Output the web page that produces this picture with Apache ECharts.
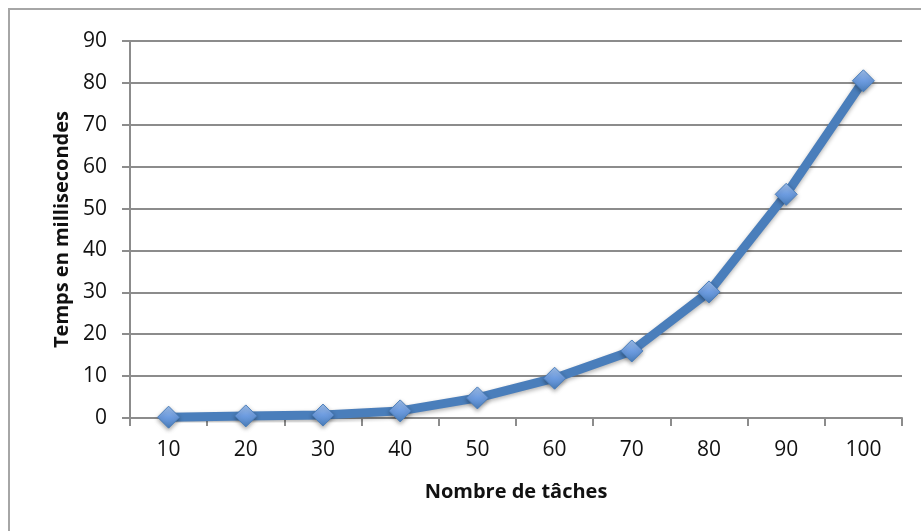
<!DOCTYPE html>
<html>
<head>
<meta charset="utf-8">
<script src="https://cdn.jsdelivr.net/npm/echarts@6/dist/echarts.min.js"></script>
<style>
  html, body { margin: 0; padding: 0; background: #fff; }
  #chart { width: 921px; height: 531px; }
</style>
</head>
<body>
<div id="chart"></div>
<script>
// Task counts on the x axis
const categories = ['10', '20', '30', '40', '50', '60', '70', '80', '90', '100'];
// Measured time in milliseconds for each task count
const timesMs = [0.2, 0.5, 0.7, 1.7, 4.8, 9.5, 16.0, 30.1, 53.4, 80.5];

const chart = echarts.init(document.getElementById('chart'));
const font = 'Open Sans';

chart.setOption({
  animation: false,
  backgroundColor: '#fff',
  graphic: [{
    type: 'rect',
    shape: { x: 9, y: 9, width: 930, height: 540 },
    style: { fill: 'none', stroke: '#a6a6a6', lineWidth: 2 },
    silent: true
  }],
  grid: { left: 130, right: 19, top: 41, bottom: 113 },
  xAxis: {
    type: 'category',
    data: categories,
    boundaryGap: true,
    name: 'Nombre de tâches',
    nameLocation: 'middle',
    nameGap: 64,
    nameTextStyle: { fontFamily: font, fontSize: 20, fontWeight: 'bold', color: '#111' },
    axisLine: { lineStyle: { color: '#8c8c8c', width: 2 } },
    axisTick: { show: true, length: 8, inside: false, alignWithLabel: false, lineStyle: { color: '#8c8c8c', width: 2 } },
    axisLabel: { fontFamily: font, fontSize: 21, color: '#111', margin: 22 },
    splitLine: { show: false }
  },
  yAxis: {
    type: 'value',
    min: 0,
    max: 90,
    interval: 10,
    name: 'Temps en millisecondes',
    nameLocation: 'middle',
    nameGap: 58,
    nameRotate: 90,
    nameTextStyle: { fontFamily: font, fontSize: 20, fontWeight: 'bold', color: '#111' },
    axisLine: { show: true, lineStyle: { color: '#8c8c8c', width: 2 } },
    axisTick: { show: true, length: 8, lineStyle: { color: '#8c8c8c', width: 2 } },
    axisLabel: { fontFamily: font, fontSize: 21, color: '#111', margin: 23 },
    splitLine: { lineStyle: { color: '#8c8c8c', width: 2 } }
  },
  series: [{
    type: 'line',
    data: timesMs,
    symbol: 'diamond',
    symbolSize: 22,
    lineStyle: {
      color: '#4a7ebb', width: 9,
      shadowColor: 'rgba(0,0,0,0.3)', shadowBlur: 4, shadowOffsetY: 2
    },
    itemStyle: {
      color: new echarts.graphic.LinearGradient(0, 0, 0, 1, [
        { offset: 0, color: '#a3c3ee' },
        { offset: 0.5, color: '#6d9ce0' },
        { offset: 1, color: '#4a7ebb' }
      ]),
      borderColor: '#4a7ebb',
      borderWidth: 1,
      shadowColor: 'rgba(0,0,0,0.35)', shadowBlur: 4, shadowOffsetY: 2
    },
    z: 3
  }]
});
</script>
</body>
</html>
